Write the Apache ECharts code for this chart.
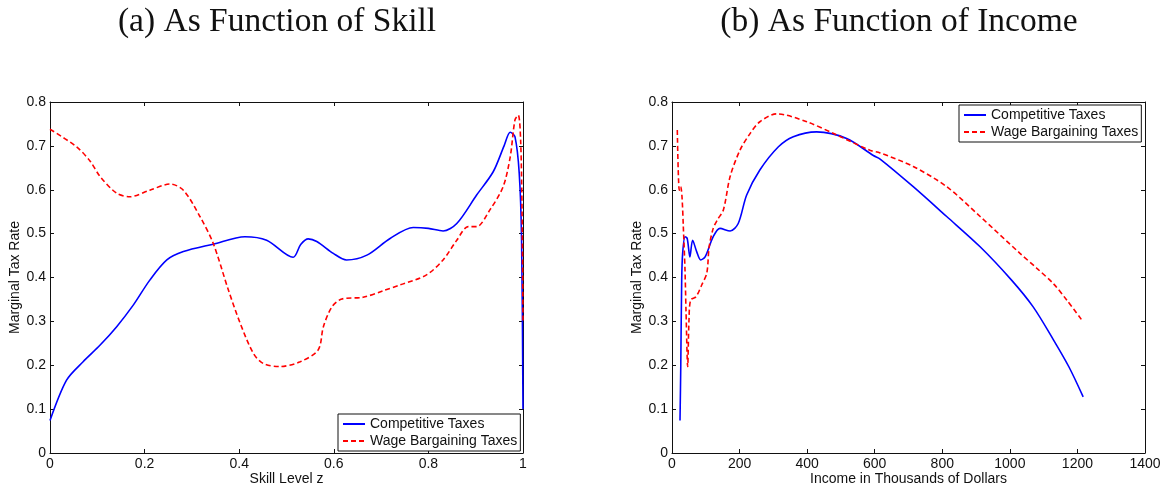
<!DOCTYPE html>
<html>
<head>
<meta charset="utf-8">
<script src="https://cdn.jsdelivr.net/npm/echarts@6/dist/echarts.min.js"></script>
<style>
  html, body { margin: 0; padding: 0; background: #fff; }
  #chart { width: 1163px; height: 484px; }
</style>
</head>
<body>
<div id="chart"></div>
<script>
// Panel (a): marginal tax rate against skill level z
const skillZComp = [0, 0.035, 0.070, 0.106, 0.141, 0.176, 0.211, 0.247, 0.282, 0.345, 0.412, 0.458, 0.514,
  0.530, 0.546, 0.564, 0.599, 0.627, 0.670, 0.719, 0.768, 0.800, 0.831, 0.860, 0.902, 0.937, 0.960,
  0.973, 0.983, 0.992, 0.997, 1.0];
const compBySkill = [0.074, 0.166, 0.208, 0.246, 0.288, 0.337, 0.394, 0.440, 0.459, 0.476, 0.493, 0.485, 0.446,
  0.475, 0.488, 0.482, 0.455, 0.440, 0.451, 0.489, 0.514, 0.512, 0.506, 0.523, 0.588, 0.641, 0.700,
  0.731, 0.721, 0.638, 0.485, 0.100];

const skillZWage = [0, 0.056, 0.085, 0.106, 0.141, 0.169, 0.211, 0.254, 0.282, 0.317, 0.345, 0.377, 0.402,
  0.430, 0.451, 0.486, 0.529, 0.567, 0.578, 0.596, 0.617, 0.662, 0.705, 0.740, 0.796, 0.831, 0.860,
  0.884, 0.902, 0.930, 0.958, 0.973, 0.983, 0.990, 0.995, 0.998, 1.0];
const wageBySkill = [0.738, 0.698, 0.665, 0.630, 0.592, 0.584, 0.599, 0.613, 0.599, 0.539, 0.478, 0.372, 0.296,
  0.227, 0.204, 0.197, 0.208, 0.235, 0.288, 0.333, 0.351, 0.355, 0.370, 0.383, 0.406, 0.440, 0.485,
  0.516, 0.516, 0.554, 0.607, 0.675, 0.759, 0.770, 0.713, 0.550, 0.300];

// Panel (b): marginal tax rate against income (thousands of dollars)
const incomeComp = [23.7, 26, 28.7, 31.5, 38.5, 45, 53, 61, 73, 85, 98, 122, 142, 172, 196, 221, 260, 315,
  359, 428, 517, 596, 616, 714, 813, 912, 1005, 1069, 1129, 1175, 1217];
const compByIncome = [0.074, 0.200, 0.394, 0.455, 0.493, 0.489, 0.447, 0.485, 0.459, 0.440, 0.447, 0.493, 0.512,
  0.506, 0.523, 0.588, 0.645, 0.698, 0.721, 0.732, 0.717, 0.678, 0.670, 0.607, 0.539, 0.470, 0.394,
  0.333, 0.258, 0.196, 0.128];

const incomeWage = [15.7, 21.6, 25.7, 29.6, 33.5, 38.5, 41.4, 46.4, 50.3, 55.3, 71, 88, 103, 110, 122, 134,
  152, 172, 201, 231, 260, 310, 399, 487, 586, 616, 714, 813, 912, 1030, 1080, 1130, 1170, 1213];
const wageByIncome = [0.736, 0.599, 0.607, 0.584, 0.516, 0.417, 0.326, 0.197, 0.303, 0.349, 0.356, 0.383, 0.410,
  0.470, 0.512, 0.531, 0.554, 0.630, 0.690, 0.728, 0.755, 0.773, 0.755, 0.725, 0.690, 0.684, 0.653,
  0.607, 0.539, 0.455, 0.421, 0.385, 0.347, 0.303];

const seriesNames = ['Competitive Taxes', 'Wage Bargaining Taxes'];
const yTicks = { min: 0, max: 0.8, interval: 0.1 };

const pairs = (xs, ys) => xs.map((x, i) => [x, ys[i]]);
const ink = '#111';
const font = 'Liberation Sans, Arial, sans-serif';

function frameAxis(extra) {
  return Object.assign({
    type: 'value',
    axisLine: { show: true, onZero: false, lineStyle: { color: ink, width: 1 } },
    axisTick: { show: true, inside: true, length: 4, lineStyle: { color: ink } },
    splitLine: { show: false },
    axisLabel: { show: true, color: ink, fontFamily: font, fontSize: 14, margin: 4,
      formatter: v => String(v) },
    nameMoveOverlap: false
  }, extra);
}

function mirrorAxis(extra) {
  const a = frameAxis(extra);
  a.axisLabel = { show: false };
  a.name = '';
  return a;
}

const grids = [
  { left: 50, right: 640, top: 102, bottom: 31, outerBoundsMode: 'none', containLabel: false },
  { left: 672, right: 18, top: 102, bottom: 31, outerBoundsMode: 'none', containLabel: false }
];

const nameStyle = { color: ink, fontFamily: font, fontSize: 14 };
const xAxes = [
  frameAxis({ gridIndex: 0, min: 0, max: 1, interval: 0.2, position: 'bottom',
    name: 'Skill Level z', nameLocation: 'middle', nameGap: 19, nameTextStyle: nameStyle }),
  mirrorAxis({ gridIndex: 0, min: 0, max: 1, interval: 0.2, position: 'top' }),
  frameAxis({ gridIndex: 1, min: 0, max: 1400, interval: 200, position: 'bottom',
    name: 'Income in Thousands of Dollars', nameLocation: 'middle', nameGap: 19, nameTextStyle: nameStyle }),
  mirrorAxis({ gridIndex: 1, min: 0, max: 1400, interval: 200, position: 'top' })
];

const yAxes = [
  frameAxis(Object.assign({ gridIndex: 0, position: 'left', name: 'Marginal Tax Rate',
    nameLocation: 'middle', nameGap: 28, nameRotate: 90, nameTextStyle: nameStyle }, yTicks)),
  mirrorAxis(Object.assign({ gridIndex: 0, position: 'right' }, yTicks)),
  frameAxis(Object.assign({ gridIndex: 1, position: 'left', name: 'Marginal Tax Rate',
    nameLocation: 'middle', nameGap: 28, nameRotate: 90, nameTextStyle: nameStyle }, yTicks)),
  mirrorAxis(Object.assign({ gridIndex: 1, position: 'right' }, yTicks))
];

const compStyle = { color: '#0000ff', width: 1.6, type: 'solid' };
const wageStyle = { color: '#ff0000', width: 1.6, type: [5, 3] };

function curve(name, xIdx, yIdx, data, style) {
  return {
    name, type: 'line', xAxisIndex: xIdx, yAxisIndex: yIdx, data,
    showSymbol: false, symbol: 'none', smooth: 0.3,
    lineStyle: style, itemStyle: { color: style.color },
    animation: false, z: 3
  };
}

const series = [
  curve(seriesNames[0], 0, 0, pairs(skillZComp, compBySkill), compStyle),
  curve(seriesNames[1], 0, 0, pairs(skillZWage, wageBySkill), wageStyle),
  curve(seriesNames[0], 2, 2, pairs(incomeComp, compByIncome), compStyle),
  curve(seriesNames[1], 2, 2, pairs(incomeWage, wageByIncome), wageStyle)
];

function legendAt(left, top) {
  return {
    data: seriesNames, orient: 'vertical', left, top,
    itemWidth: 22, itemHeight: 14, itemGap: 3, itemTextGap: 2,
    padding: [3, 3, 3, 4],
    borderColor: ink, borderWidth: 1, backgroundColor: '#fff',
    itemStyle: { opacity: 0 },
    textStyle: { color: ink, fontFamily: font, fontSize: 14 },
    selectedMode: false, z: 10
  };
}

const titleFont = 'Liberation Serif, Times New Roman, serif';
const option = {
  animation: false,
  backgroundColor: '#fff',
  grid: grids,
  xAxis: xAxes,
  yAxis: yAxes,
  series,
  legend: [legendAt(338, 414), legendAt(959, 105)],
  graphic: [
    { type: 'text', x: 277, y: 22, style: { text: '(a) As Function of Skill', fill: ink,
      font: '33.5px ' + titleFont, align: 'center', verticalAlign: 'middle' } },
    { type: 'text', x: 899, y: 22, style: { text: '(b) As Function of Income', fill: ink,
      font: '33.5px ' + titleFont, align: 'center', verticalAlign: 'middle' } }
  ]
};

const chart = echarts.init(document.getElementById('chart'), null, { renderer: 'canvas' });
chart.setOption(option);
</script>
</body>
</html>
